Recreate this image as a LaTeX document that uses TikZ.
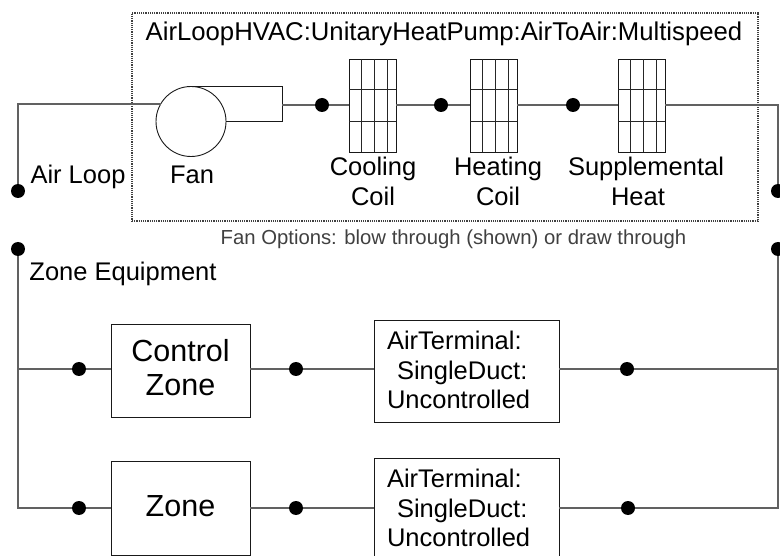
\documentclass[tikz,border=0pt]{standalone}
\usepackage{fontspec}
\usetikzlibrary{calc}
\setmainfont{Liberation Sans}
\tikzset{
	pipe/.style={line width=1.4pt,draw=black!62},
	dot/.style={circle,fill=black,inner sep=0pt,minimum size=14pt,outer sep=0pt},
	zonebox/.style={draw=black!90,line width=0.9pt,inner sep=0pt,outer sep=0pt,minimum width=139pt},
	zonetext/.style={inner sep=0pt,align=center,font=\fontsize{30.5}{34}\selectfont},
	termbox/.style={draw=black!90,line width=0.9pt,inner sep=0pt,outer sep=0pt,minimum width=185pt,minimum height=102pt,text width=185pt,align=left,font=\fontsize{25.5}{29.3}\selectfont},
	coilbox/.style={draw=black!90,line width=0.9pt,inner sep=0pt,outer sep=0pt,minimum width=47pt,minimum height=93pt},
	lbl/.style={inner sep=0pt,anchor=base,font=\fontsize{25.5}{30}\selectfont,align=center}
}
\newcommand{\termtext}{\hspace*{13pt}AirTerminal:\\\hspace*{23pt}SingleDuct:\\\hspace*{13pt}Uncontrolled\vspace{2pt}}
\begin{document}
\begin{tikzpicture}[x=1pt,y=-1pt]
	\useasboundingbox (0,0) rectangle (780,556);
	\clip (0,0) rectangle (780,556);
	\node[draw=black!75,densely dotted,line width=1.2pt,inner sep=0pt,minimum width=626pt,minimum height=208pt] (unit) at (445,117) {};
	\node[lbl,font=\fontsize{25.7}{30}\selectfont] (unittitle) at (444,41) {AirLoopHVAC:UnitaryHeatPump:AirToAir:Multispeed};
	% fan
	\node[circle,draw=black!90,line width=0.9pt,inner sep=0pt,outer sep=0pt,minimum size=70pt] (fan) at (191,121.5) {};
	\coordinate (fanend) at (282,121.5);
	\coordinate (fanout) at (282,105);
	\draw[line width=1pt,black!90] (fan.north) -| (fanend) -- (fan.east);
	% coils
	\node[coilbox] (coolc) at (372.5,105.5) {};
	\node[coilbox] (heatc) at (493.5,105.5) {};
	\node[coilbox] (suppc) at (641.5,105.5) {};
	\foreach \c in {coolc,heatc,suppc}{
		\draw[line width=0.9pt,black!85] ($(\c.north west)+(0,30)$) -- ($(\c.north east)+(0,30)$);
		\draw[line width=0.9pt,black!85] ($(\c.north west)+(0,62)$) -- ($(\c.north east)+(0,62)$);
		\foreach \x in {12,25,38}
			\draw[line width=0.9pt,black!85] ($(\c.north west)+(\x,0)$) -- ($(\c.south west)+(\x,0)$);
	}
	\node[dot] (dfan) at (322,105) {};
	\node[dot] (dcool) at (441,105) {};
	\node[dot] (dheat) at (573,105) {};
	\node[dot] (loopl) at (18,191) {};
	\node[dot] (loopr) at (778,191) {};
	\node[dot] (zonel) at (18,249) {};
	\node[dot] (zoner) at (778,249) {};
	\coordinate (topr) at (778,105);
	\draw[pipe] (loopl) |- (fan.150);
	\draw[pipe] (fanout) -- (dfan) -- (dfan -| coolc.west);
	\draw[pipe] (dfan -| coolc.east) -- (dcool) -- (dcool -| heatc.west);
	\draw[pipe] (dcool -| heatc.east) -- (dheat) -- (dheat -| suppc.west);
	\draw[pipe] (dheat -| suppc.east) -- (topr) -- (loopr);
	% labels
	\node[lbl] (airloop) at (78,184) {Air Loop};
	\node[lbl] (fanlbl) at (192,184) {Fan};
	\node[lbl] (coollbl) at (373,176) {Cooling};
	\node[lbl] (coollbb) at (373,206) {Coil};
	\node[lbl] (heatlbl) at (498,176) {Heating};
	\node[lbl] (heatlbb) at (498,206) {Coil};
	\node[lbl] (supplbl) at (646,176) {Supplemental};
	\node[lbl] (supplbb) at (638,206) {Heat};
	\node[lbl,font=\fontsize{20.3}{24}\selectfont,text=black!75] (fanopt) at (453.5,245) {Fan Options: blow through (shown) or draw through};
	\node[lbl] (zoneeq) at (123,281) {Zone Equipment};
	% zone branches
	\node[zonebox,minimum height=93pt] (ctrl) at (180.5,370.5) {};
	\node[zonebox,minimum height=94pt] (zone) at (180.5,508) {};
	\node[zonetext] (ctrllbl) at ($(ctrl)+(0,-3)$) {Control\\Zone};
	\node[zonetext] (zonelbl) at ($(zone)+(0,-2)$) {Zone};
	\node[termbox] (term1) at (466.5,371) {\termtext};
	\node[termbox] (term2) at (466.5,509) {\termtext};
	\foreach \n/\y/\z/\t/\e in {a/369/ctrl/term1/627,b/508/zone/term2/628}{
		\node[dot] (d1\n) at (79,\y) {};
		\node[dot] (d2\n) at (296,\y) {};
		\node[dot] (d3\n) at (\e,\y) {};
		\draw[pipe] (zonel) |- (d1\n);
		\draw[pipe] (d1\n) -- (d1\n -| \z.west);
		\draw[pipe] (d2\n -| \z.east) -- (d2\n);
		\draw[pipe] (d2\n) -- (d2\n -| \t.west);
		\draw[pipe] (d3\n -| \t.east) -- (d3\n);
		\draw[pipe] (zoner) |- (d3\n);
	}
\end{tikzpicture}
\end{document}
